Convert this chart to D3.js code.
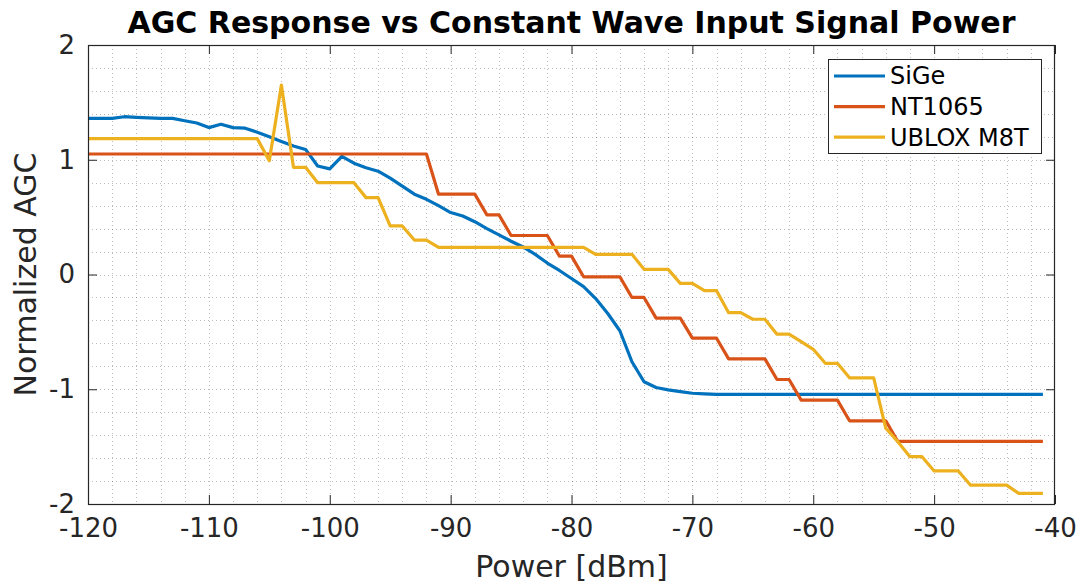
<!DOCTYPE html>
<html><head><meta charset="utf-8">
<script src="https://cdn.jsdelivr.net/npm/d3@7"></script>
<style>body{margin:0;background:#fff;} text{font-family:"DejaVu Sans",sans-serif;}</style>
</head><body>
<svg id="chart" width="1081" height="584"></svg>
<script>
const power = d3.range(-120, -40, 1); // -120 .. -41
const sige = [1.36,1.36,1.36,1.375,1.37,1.365,1.36,1.36,1.34,1.32,
  1.28,1.31,1.28,1.275,1.24,1.20,1.16,1.12,1.09,0.945,
  0.92,1.03,0.97,0.93,0.90,0.84,0.77,0.70,0.655,0.60,
  0.54,0.51,0.46,0.40,0.345,0.29,0.24,0.175,0.10,0.035,
  -0.035,-0.106,-0.21,-0.34,-0.49,-0.76,-0.935,-0.985,-1.005,-1.02,
  -1.035,-1.04,-1.045,-1.045,-1.045,-1.045,-1.045,-1.045,-1.045,-1.045,
  -1.045,-1.045,-1.045,-1.045,-1.045,-1.045,-1.045,-1.045,-1.045,-1.045,
  -1.045,-1.045,-1.045,-1.045,-1.045,-1.045,-1.045,-1.045,-1.045,-1.045];
const nt1065 = [1.05,1.05,1.05,1.05,1.05,1.05,1.05,1.05,1.05,1.05,
  1.05,1.05,1.05,1.05,1.05,1.05,1.05,1.05,1.05,1.05,
  1.05,1.05,1.05,1.05,1.05,1.05,1.05,1.05,1.05,0.70,
  0.70,0.70,0.70,0.52,0.52,0.34,0.34,0.34,0.34,0.16,
  0.16,-0.02,-0.02,-0.02,-0.02,-0.20,-0.20,-0.38,-0.38,-0.38,
  -0.555,-0.555,-0.555,-0.735,-0.735,-0.735,-0.735,-0.915,-0.915,-1.095,
  -1.095,-1.095,-1.095,-1.275,-1.275,-1.275,-1.275,-1.455,-1.455,-1.455,
  -1.455,-1.455,-1.455,-1.455,-1.455,-1.455,-1.455,-1.455,-1.455,-1.455];
const ublox = [1.184,1.184,1.184,1.184,1.184,1.184,1.184,1.184,1.184,1.184,
  1.184,1.184,1.184,1.184,1.184,0.992,1.651,0.934,0.934,0.80,
  0.80,0.80,0.80,0.67,0.67,0.423,0.423,0.30,0.30,0.237,
  0.237,0.237,0.237,0.237,0.237,0.237,0.237,0.237,0.237,0.237,
  0.237,0.237,0.176,0.176,0.176,0.176,0.045,0.045,0.045,-0.077,
  -0.077,-0.141,-0.141,-0.333,-0.333,-0.39,-0.39,-0.52,-0.52,-0.585,
  -0.652,-0.774,-0.774,-0.90,-0.90,-0.90,-1.34,-1.457,-1.588,-1.588,
  -1.712,-1.712,-1.712,-1.835,-1.835,-1.835,-1.835,-1.907,-1.907,-1.907];
const seriesNames = ["SiGe","NT1065","UBLOX M8T"];
const seriesColors = ["#0072BD","#D95319","#EDB120"];
const xTicks = [-120,-110,-100,-90,-80,-70,-60,-50,-40];
const yTicks = [-2,-1,0,1,2];
const titleText = "AGC Response vs Constant Wave Input Signal Power";
const xLabelText = "Power [dBm]";
const yLabelText = "Normalized AGC";

const svg = d3.select("#chart");
const L = 88, R = 1055, T = 45, B = 504;
const x = d3.scaleLinear().domain([-120,-40]).range([L,R]);
const y = d3.scaleLinear().domain([-2,2]).range([B,T]);
const axisColor = "#262626";
const fmt = d => String(d);

// minor dotted grid
const gx = d3.range(-118, -40, 2);
const gy = d3.range(-1.8, 2.0, 0.2);
const grid = svg.append("g").attr("stroke", "#262626").attr("stroke-opacity", 0.3)
  .attr("stroke-width", 1).attr("stroke-dasharray", "1,3").attr("shape-rendering","crispEdges");
grid.selectAll(".gx").data(gx).join("line")
  .attr("x1", d => Math.round(x(d))+0.5).attr("x2", d => Math.round(x(d))+0.5).attr("y1", T).attr("y2", B);
grid.selectAll(".gy").data(gy).join("line")
  .attr("y1", d => Math.round(y(d))+0.5).attr("y2", d => Math.round(y(d))+0.5).attr("x1", L).attr("x2", R);

// axes with inward ticks
const fs = 26;
const xb = svg.append("g").attr("transform", `translate(0,${B})`)
  .call(d3.axisBottom(x).tickValues(xTicks).tickFormat(fmt).tickSizeInner(-9).tickSizeOuter(0).tickPadding(15));
const xt = svg.append("g").attr("transform", `translate(0,${T})`)
  .call(d3.axisTop(x).tickValues(xTicks).tickSizeInner(-9).tickSizeOuter(0).tickFormat(""));
const yl = svg.append("g").attr("transform", `translate(${L},0)`)
  .call(d3.axisLeft(y).tickValues(yTicks).tickFormat(fmt).tickSizeInner(-9).tickSizeOuter(0).tickPadding(13));
const yr = svg.append("g").attr("transform", `translate(${R},0)`)
  .call(d3.axisRight(y).tickValues(yTicks).tickSizeInner(-9).tickSizeOuter(0).tickFormat(""));
[xb,xt,yl,yr].forEach(g => {
  g.select(".domain").remove();
  g.selectAll("line").attr("stroke", axisColor).attr("stroke-width", 1);
  g.selectAll("text").attr("fill", axisColor).style("font-size", fs+"px").style("font-family","DejaVu Sans");
});
xb.selectAll("text").attr("dy", "0.71em");

// series lines
const series = [sige, nt1065, ublox];
const line = d3.line().x((d,i) => x(power[i])).y(d => y(d));
svg.append("g").selectAll("path").data(series).join("path")
  .attr("d", d => line(d)).attr("fill","none")
  .attr("stroke", (d,i) => seriesColors[i]).attr("stroke-width", 3.2)
  .attr("stroke-linejoin","round").attr("stroke-linecap","butt");

// frame
svg.append("rect").attr("x", L+0.5).attr("y", T+0.5).attr("width", R-L-1).attr("height", B-T)
  .attr("fill","none").attr("stroke", axisColor).attr("stroke-width", 1.2);

// title & labels
svg.append("text").attr("x", (L+R)/2).attr("y", 33).attr("text-anchor","middle")
  .style("font-size","30px").style("font-weight","bold").attr("fill","#000").text(titleText);
svg.append("text").attr("x", (L+R)/2).attr("y", 577).attr("text-anchor","middle")
  .style("font-size","30px").attr("fill", axisColor).text(xLabelText);
svg.append("text").attr("transform", `translate(36,${(T+B)/2}) rotate(-90)`).attr("text-anchor","middle")
  .style("font-size","30px").attr("fill", axisColor).text(yLabelText);

// legend
const lg = svg.append("g");
lg.append("rect").attr("x", 828.5).attr("y", 59.5).attr("width", 213).attr("height", 94)
  .attr("fill","#fff").attr("stroke", axisColor).attr("stroke-width", 1);
seriesNames.forEach((n,i) => {
  const cy = 76 + i*30.6;
  lg.append("line").attr("x1", 834).attr("x2", 885).attr("y1", cy).attr("y2", cy)
    .attr("stroke", seriesColors[i]).attr("stroke-width", 3.2);
  lg.append("text").attr("x", 890).attr("y", cy).attr("dy","0.35em")
    .style("font-size","24px").attr("fill","#000").text(n);
});
</script>
</body></html>
